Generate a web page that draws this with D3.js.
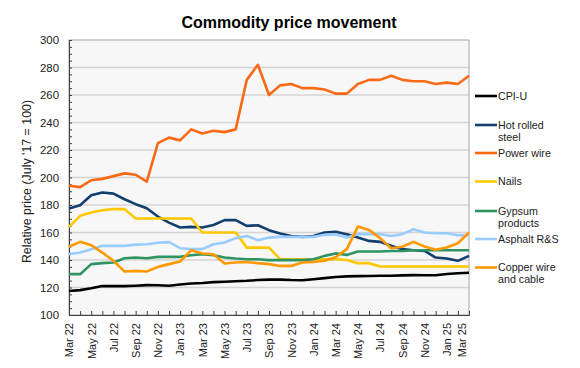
<!DOCTYPE html>
<html><head><meta charset="utf-8">
<script src="https://cdn.jsdelivr.net/npm/d3@7"></script>
<style>
html,body{margin:0;padding:0;background:#fff;}
svg{display:block;font-family:"Liberation Sans",Arial,sans-serif;}
</style></head>
<body><svg id="c" width="580" height="368"></svg>
<script>
const months = ["Mar 22","Apr 22","May 22","Jun 22","Jul 22","Aug 22","Sep 22","Oct 22","Nov 22","Dec 22",
"Jan 23","Feb 23","Mar 23","Apr 23","May 23","Jun 23","Jul 23","Aug 23","Sep 23","Oct 23","Nov 23","Dec 23",
"Jan 24","Feb 24","Mar 24","Apr 24","May 24","Jun 24","Jul 24","Aug 24","Sep 24","Oct 24","Nov 24","Dec 24",
"Jan 25","Feb 25","Mar 25"];
const yTicks = [100,120,140,160,180,200,220,240,260,280,300];

const cpiU = [117.5,118.1,119.4,121.1,121.0,121.0,121.3,121.7,121.6,121.3,122.2,122.9,123.3,123.9,124.2,124.6,124.9,125.4,125.7,125.7,125.4,125.3,126.0,126.8,127.6,128.1,128.3,128.4,128.5,128.6,128.8,129.0,128.9,128.9,129.8,130.4,130.7];
const hotRolled = [177.4,179.8,187.1,189.1,188.3,184.2,180.6,177.7,171.6,167.2,163.6,164.1,163.6,165.5,169,169,164.8,165.3,161.7,159.2,157.5,156.8,157.5,160,160.5,158.8,156.3,153.9,153.2,150.3,147.9,147.1,146.6,141.8,141.1,139.4,143];
const powerWire = [194,193,198,199,201,203,202,197,225,229,227,235,232,234,233,235,271,282,260,267,268,265,265,264,261,261,268,271,271,274,271,270,270,268,269,268,274];
const nails = [164.1,172.1,174.5,176.2,177,177,170.2,170.2,170.2,170.2,170.2,170.2,160,160,160,160,149,149,149,140.6,140.6,140.6,140.6,140.6,140.6,140,137.7,137.7,135.3,135.3,135.3,135.3,135.3,135.3,135.3,135.3,135.3];
const gypsum = [129.7,129.7,137,137.7,138.2,141.3,141.8,141.3,142.3,142.3,142.3,143.5,144.2,143.5,141.8,141.1,140.6,140.6,139.9,139.9,139.9,139.9,140.6,143,144.8,143.7,146.2,146.2,146.2,146.6,146.6,147.1,147.1,147.1,147.1,147.1,147.1];
const asphalt = [144.2,145.4,147.9,150.3,150.3,150.3,151.2,151.5,152.5,153,148.6,147.9,147.9,151.5,152.7,155.9,157.5,154.4,156.3,156.8,156.8,156.8,156.8,158.3,158.5,156.3,158.8,158.8,158.8,157.5,158.8,162.4,160,159.5,159.5,158,158];
const copper = [149.6,153.2,150.8,145.4,139.4,131.6,132.1,131.6,135,137,138.9,147.1,144.7,144.2,137.4,138.2,138.6,137.7,137,135.7,135.7,138.2,138.6,139.5,142,147.9,164.3,161.9,155.9,148.6,149.6,153.2,149.8,147.4,149.1,152.2,160];

const seriesNames = ["CPI-U","Hot rolled steel","Power wire","Nails","Gypsum products","Asphalt R&S","Copper wire and cable"];
const seriesValues = [cpiU,hotRolled,powerWire,nails,gypsum,asphalt,copper];
const seriesColors = ["#000000","#123f6e","#fa6a16","#ffc800","#2e9461","#99ccff","#ff9900"];
const legendLines = [["CPI-U"],["Hot rolled","steel"],["Power wire"],["Nails"],["Gypsum","products"],["Asphalt R&S"],["Copper wire","and cable"]];

const svg = d3.select("#c");
const L=69, R=469, T=40, B=315;
const x = d3.scalePoint().domain(months).range([L,R]).padding(0);
const y = d3.scaleLinear().domain([100,300]).range([B,T]);

svg.append("rect").attr("x",L).attr("y",T).attr("width",R-L).attr("height",B-T).attr("fill","#f7f7f7");

// gridlines
svg.append("g").selectAll("line").data(yTicks.filter(v=>v>100 && v<300)).join("line")
  .attr("x1",L).attr("x2",R).attr("y1",d=>y(d)).attr("y2",d=>y(d))
  .attr("stroke","#d4d4d4").attr("stroke-width",1.3);
svg.append("rect").attr("x",L).attr("y",T).attr("width",R-L).attr("height",B-T)
  .attr("fill","none").attr("stroke","#a6a6a6").attr("stroke-width",1);

// y axis
const ya = svg.append("g").attr("transform",`translate(${L},0)`)
  .call(d3.axisLeft(y).tickValues(d3.range(100,301,5)).tickSize(-3).tickPadding(10)
    .tickFormat(d=> yTicks.includes(d) ? d : ""));
ya.select(".domain").attr("stroke","#404040");
ya.selectAll(".tick line").attr("stroke","#404040");
ya.selectAll("text").attr("font-size","11.4px").attr("fill","#222").attr("font-family","Liberation Sans, Arial, sans-serif");

// x axis
const xa = svg.append("g").attr("transform",`translate(0,${B})`)
  .call(d3.axisBottom(x).tickValues(months).tickSize(-4)
    .tickFormat((d,i)=> i%2===0 ? d : ""));
xa.select(".domain").attr("stroke","#404040");
xa.selectAll(".tick line").attr("stroke","#404040");
xa.selectAll("text").attr("font-size","11px").attr("fill","#222").attr("font-family","Liberation Sans, Arial, sans-serif")
  .attr("transform",(d,i)=> i===months.length-1 ? "translate(-7,0) rotate(-90)" : "rotate(-90)")
  .attr("text-anchor","end").attr("x",-8).attr("y",0).attr("dy","0.35em");

// lines
const line = d3.line().x((d,i)=>x(months[i])).y(d=>y(d));
svg.append("g").selectAll("path").data(seriesValues).join("path")
  .attr("d",d=>line(d)).attr("fill","none")
  .attr("stroke",(d,i)=>seriesColors[i]).attr("stroke-width",2.6).attr("stroke-linejoin","round");

// title
svg.append("text").attr("x",289).attr("y",28).attr("text-anchor","middle")
  .attr("font-size","16px").attr("font-weight","bold").attr("fill","#000").text("Commodity price movement");

// y title
svg.append("text").attr("transform",`translate(31,${(T+B)/2+4}) rotate(-90)`).attr("text-anchor","middle")
  .attr("font-size","12.4px").attr("fill","#222").text("Relative price (July '17 = 100)");

// legend
const legY = [96,125,153,181.5,211,239,267.5];
const lg = svg.append("g");
seriesNames.forEach((n,i)=>{
  const g = lg.append("g").attr("transform",`translate(0,${legY[i]})`);
  g.append("line").attr("x1",475).attr("x2",497).attr("y1",0).attr("y2",0)
    .attr("stroke",seriesColors[i]).attr("stroke-width",2.6);
  const t = g.append("text").attr("x",498).attr("y",0).attr("font-size","10.7px").attr("fill","#222");
  legendLines[i].forEach((s,j)=>{
    t.append("tspan").attr("x",498).attr("dy", j===0 ? "0.35em" : "12.2px").text(s);
  });
});
</script></body></html>
